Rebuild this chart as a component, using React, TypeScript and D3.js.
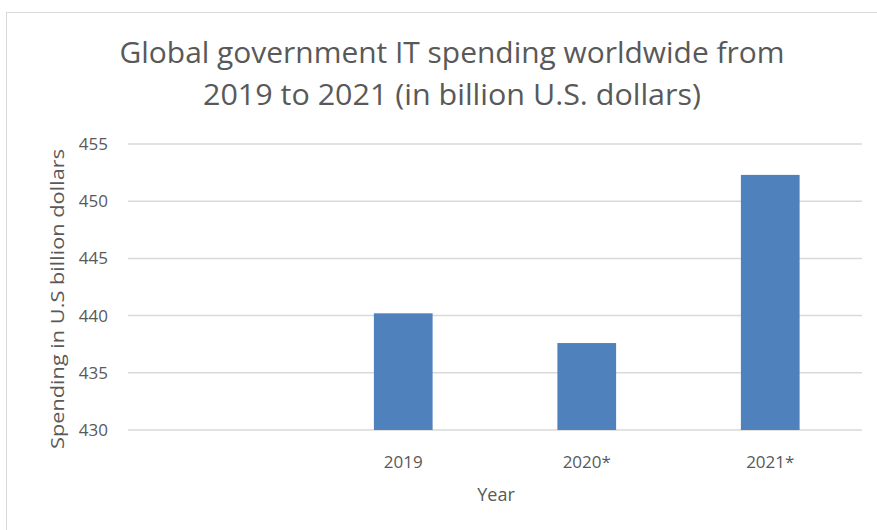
import React from "react";
import * as d3 from "d3";

const categories = ["", "2019", "2020*", "2021*"];
const values = [null, 440.2, 437.6, 452.3];
const yTicks = [430, 435, 440, 445, 450, 455];
const titleLines = ["Global government IT spending worldwide from", "2019 to 2021 (in billion U.S. dollars)"];
const titleLengths = [665, 498];
const yTitle = "Spending in U.S billion dollars";
const xTitle = "Year";

const W = 877;
const H = 530;
const FONT = "'Open Sans', sans-serif";

export default function App() {
  const left = 128, right = 862, top = 144, bottom = 430;
  const x = d3.scaleBand().domain(categories).range([left, right]).paddingInner(0.68).paddingOuter(0.34);
  const y = d3.scaleLinear().domain([430, 455]).range([bottom, top]);
  return (
    <svg width={W} height={H} style={{ position: "absolute", left: 0, top: 0, background: "#fff" }}>
      <rect x={6.5} y={12.5} width={W} height={H} fill="#fff" stroke="#d9d9d9" />
      {titleLines.map((t, i) => (
        <text key={i} x={452} y={63 + i * 42} textAnchor="middle" fontFamily={FONT} fontSize={30}
          textLength={titleLengths[i]} lengthAdjust="spacingAndGlyphs" fill="#595959">{t}</text>
      ))}
      {yTicks.map((t) => (
        <g key={t}>
          <line x1={left} x2={right} y1={y(t)} y2={y(t)} stroke="#d9d9d9" strokeWidth={1.5} />
          <text x={108} y={y(t) + 6} textAnchor="end" fontFamily={FONT} fontSize={17} fill="#595959">{t}</text>
        </g>
      ))}
      {categories.map((c, i) => values[i] == null ? null : (
        <rect key={c} x={x(c)} y={y(values[i] as number)} width={x.bandwidth()} height={bottom - y(values[i] as number)} fill="#4f81bd" />
      ))}
      {categories.map((c) => (
        <text key={c} x={(x(c) as number) + x.bandwidth() / 2} y={468} textAnchor="middle" fontFamily={FONT} fontSize={17} fill="#595959">{c}</text>
      ))}
      <text x={496} y={501} textAnchor="middle" fontFamily={FONT} fontSize={18} fill="#595959">{xTitle}</text>
      <text transform={`translate(64,299) rotate(-90)`} textAnchor="middle" fontFamily={FONT} fontSize={18}
        textLength={300} lengthAdjust="spacingAndGlyphs" fill="#595959">{yTitle}</text>
    </svg>
  );
}
